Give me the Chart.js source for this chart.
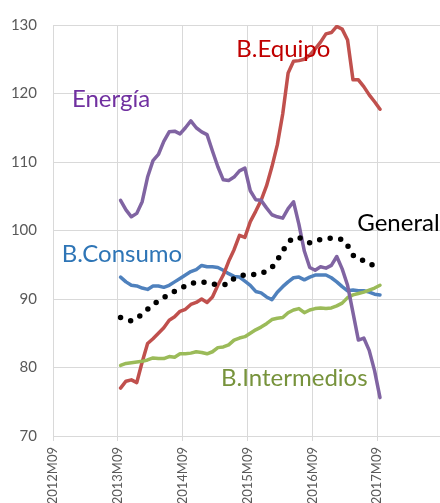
<!DOCTYPE html>
<html>
<head>
<meta charset="utf-8">
<script src="https://cdn.jsdelivr.net/npm/chart.js@4/dist/chart.umd.min.js"></script>
<style>
  html,body{margin:0;padding:0;background:#fff;}
  #c{display:block;}
</style>
</head>
<body>
<canvas id="c" width="440" height="503"></canvas>
<script>
// monthly index values, 2013M09 .. 2017M09
const general = [87.3,87.0,86.8,87.2,87.8,88.5,89.2,89.7,90.2,90.7,91.1,91.5,91.9,92.3,92.4,92.5,92.4,92.2,92.1,92.1,92.2,93.0,93.4,93.5,93.5,93.6,93.7,94.1,94.6,95.7,97.0,98.3,98.9,99.0,98.6,98.2,98.5,98.7,98.8,98.9,98.8,98.7,97.8,96.4,95.8,95.6,95.3,94.7,94.2];
const energia = [104.4,103.0,102.0,102.5,104.2,107.8,110.2,111.1,113.0,114.4,114.5,114.1,115.0,116.0,115.0,114.4,114.0,111.6,109.3,107.4,107.3,107.8,108.7,109.1,105.8,104.5,104.4,103.3,102.3,102.0,101.8,103.2,104.2,100.9,97.0,94.6,94.2,94.7,94.5,94.9,96.2,94.4,92.0,88.0,84.0,84.3,82.5,79.5,75.6];
const intermedios = [80.3,80.6,80.7,80.8,80.9,81.1,81.4,81.3,81.3,81.6,81.5,82.0,82.0,82.1,82.3,82.2,82.0,82.3,82.9,83.0,83.3,84.0,84.3,84.5,85.0,85.5,85.9,86.4,87.0,87.2,87.3,88.0,88.4,88.6,88.0,88.4,88.6,88.7,88.6,88.7,89.0,89.4,90.2,90.6,90.8,91.0,91.3,91.6,92.0];
const equipo = [77.0,78.0,78.2,77.8,80.8,83.5,84.2,85.0,85.8,86.9,87.4,88.2,88.5,89.2,89.5,90.0,89.5,90.3,92.0,93.5,95.5,97.2,99.3,99.0,101.3,102.8,104.4,106.5,109.3,112.5,117.0,123.0,124.7,124.8,125.0,125.6,126.5,127.5,128.7,128.9,129.8,129.4,127.8,122.0,122.0,121.0,119.8,118.8,117.7];
const consumo = [93.2,92.5,92.0,91.9,91.6,91.4,91.9,91.9,91.7,92.0,92.5,93.0,93.5,94.0,94.3,94.9,94.7,94.7,94.6,94.2,93.7,93.3,93.2,92.6,92.0,91.1,90.9,90.3,89.9,91.0,91.8,92.5,93.1,93.2,92.8,93.2,93.5,93.5,93.5,93.1,92.5,91.8,91.2,91.3,91.2,91.2,91.0,90.7,90.6];

// x axis: months counted from 2012M09
const tickMonths = [0,12,24,36,48,60];
const tickLabels = ['2012M09','2013M09','2014M09','2015M09','2016M09','2017M09'];
const firstMonth = 12;

const toPoints = arr => arr.map((v,i)=>({x:firstMonth+0.5+i, y:v}));

// series name labels placed in data units
const seriesNames = [
  {text:'Energía', x:3.5, y:118.0, color:'#7030A0'},
  {text:'B.Equipo', x:33.9, y:125.4, color:'#C00000'},
  {text:'General', x:56.3, y:100.0, color:'#000000'},
  {text:'B.Consumo', x:1.6, y:95.4, color:'#2E75B6'},
  {text:'B.Intermedios', x:31.1, y:77.3, color:'#77933C'},
];

const namesPlugin = {
  id:'names',
  afterDatasetsDraw(chart){
    const {ctx, scales:{x,y}} = chart;
    ctx.save();
    ctx.font = '24px Lato';
    ctx.textBaseline = 'alphabetic';
    ctx.textAlign = 'left';
    seriesNames.forEach(n=>{
      ctx.fillStyle = n.color;
      ctx.fillText(n.text, x.getPixelForValue(n.x), y.getPixelForValue(n.y));
    });
    ctx.restore();
  }
};

const line = (label, data, color) => ({
  label, data: toPoints(data), borderColor: color, backgroundColor: color,
  borderWidth: 3.5, pointRadius: 0, tension: 0, borderJoinStyle: 'round', borderCapStyle: 'round'
});

new Chart(document.getElementById('c'), {
  type: 'line',
  data: {
    datasets: [
      {label:'General', data: toPoints(general), borderColor:'#000', backgroundColor:'#000',
       borderWidth: 5.5, borderDash:[0, 10.6], borderCapStyle:'round', pointRadius:0, tension:0},
      line('Energía', energia, '#8064A2'),
      line('B.Intermedios', intermedios, '#9BBB59'),
      line('B.Equipo', equipo, '#C0504D'),
      line('B.Consumo', consumo, '#4F81BD'),
    ]
  },
  options: {
    responsive: false,
    animation: false,
    devicePixelRatio: 1,
    layout: { padding: { top: 16, right: 0, left: 0, bottom: 0 } },
    plugins: { legend: { display: false }, tooltip: { enabled: false } },
    scales: {
      x: {
        type: 'linear', min: 0, max: 71.6,
        afterBuildTicks: s => { s.ticks = tickMonths.map(v => ({value: v})); },
        afterFit: s => { s.height = 67; s.paddingLeft = 0; s.paddingRight = 0; },
        ticks: {
          minRotation: 90, maxRotation: 90, padding: 6, color: '#595959',
          font: { family: 'Lato', size: 13 },
          callback: v => tickLabels[tickMonths.indexOf(v)]
        },
        grid: { color: '#d9d9d9', lineWidth: 1, tickLength: 5, drawTicks: true },
        border: { color: '#d9d9d9' }
      },
      y: {
        min: 70, max: 130,
        afterFit: s => { s.width = 53; },
        ticks: { stepSize: 10, padding: 16, color: '#595959', font: { family: 'Lato', size: 15 } },
        grid: { color: '#d9d9d9', lineWidth: 1, drawTicks: false },
        border: { color: '#d9d9d9' }
      }
    }
  },
  plugins: [namesPlugin]
});
</script>
</body>
</html>
